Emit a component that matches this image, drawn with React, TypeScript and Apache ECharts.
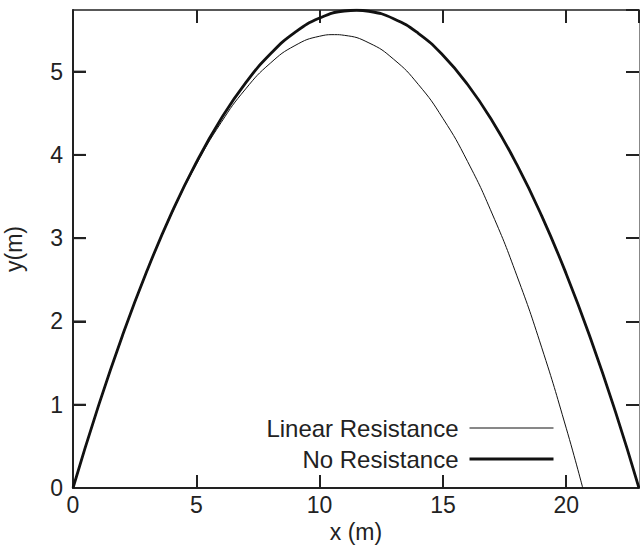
import React, { useEffect, useRef } from "react";
import * as echarts from "echarts";

const noResX = [0, 1, 2, 3, 4, 5, 6, 7, 8, 9, 10, 11, 11.5, 12, 13, 14, 15, 16, 17, 18, 19, 20, 21, 22, 22.95];
const noResY = [0, 0.956, 1.826, 2.608, 3.303, 3.911, 4.431, 4.865, 5.211, 5.471, 5.643, 5.728, 5.737, 5.725, 5.636, 5.46, 5.196, 4.845, 4.407, 3.882, 3.27, 2.571, 1.784, 0.911, 0];

const linX = [0, 1, 2, 3, 4, 5, 6, 7, 8, 9, 10, 10.6, 11, 12, 13, 14, 15, 16, 17, 18, 19, 20, 20.67];
const linY = [0, 0.956, 1.824, 2.602, 3.29, 3.884, 4.386, 4.792, 5.101, 5.313, 5.425, 5.444, 5.436, 5.345, 5.149, 4.847, 4.438, 3.92, 3.291, 2.548, 1.691, 0.718, 0];

const xTicks = [0, 5, 10, 15, 20];
const yTicks = [0, 1, 2, 3, 4, 5];

const FONT = "Liberation Sans, Arial, Helvetica, sans-serif";
const FS = 23;

const mkTick = () => ({ show: true, inside: true, length: 13, lineStyle: { color: "#222", width: 2 } });

export default function App() {
  const ref = useRef<HTMLDivElement>(null);
  useEffect(() => {
    if (!ref.current) return;
    const chart = echarts.init(ref.current, undefined, { renderer: "svg" });
    chart.setOption({
      animation: false,
      backgroundColor: "#fff",
      grid: { left: 73, right: 1, top: 10, bottom: 57, outerBoundsMode: "none", containLabel: false },
      legend: {
        orient: "vertical",
        right: 80,
        top: 411,
        align: "right",
        itemWidth: 84,
        itemHeight: 14,
        itemGap: 7,
        itemStyle: { opacity: 0 },
        textStyle: { fontFamily: FONT, fontSize: 24, color: "#222", padding: [0, 6, 0, 0] },
        data: [
          { name: "Linear Resistance", lineStyle: { width: 1 } },
          { name: "No Resistance", lineStyle: { width: 3 } },
        ],
      },
      xAxis: [
        {
          type: "value",
          min: 0,
          max: 22.95,
          interval: 5,
          name: "x (m)",
          nameLocation: "middle",
          nameGap: 24,
          nameTextStyle: { fontFamily: FONT, fontSize: FS, color: "#222" },
          axisLine: { show: true, onZero: false, lineStyle: { color: "#222", width: 2 } },
          axisTick: mkTick(),
          splitLine: { show: false },
          axisLabel: {
            fontFamily: FONT,
            fontSize: FS,
            color: "#222",
            margin: 5,
            showMaxLabel: false,
            formatter: (v: number) => (xTicks.includes(v) ? String(v) : ""),
          },
        },
        {
          type: "value",
          position: "top",
          min: 0,
          max: 22.95,
          interval: 5,
          axisLine: { show: true, onZero: false, lineStyle: { color: "#222", width: 1.5 } },
          axisTick: mkTick(),
          splitLine: { show: false },
          axisLabel: { show: false },
        },
      ],
      yAxis: [
        {
          type: "value",
          min: 0,
          max: 5.74,
          interval: 1,
          name: "y(m)",
          nameLocation: "middle",
          nameGap: 48,
          nameRotate: 90,
          nameTextStyle: { fontFamily: FONT, fontSize: FS, color: "#222" },
          axisLine: { show: true, onZero: false, lineStyle: { color: "#222", width: 2 } },
          axisTick: mkTick(),
          splitLine: { show: false },
          axisLabel: {
            fontFamily: FONT,
            fontSize: FS,
            color: "#222",
            margin: 10,
            showMaxLabel: false,
            formatter: (v: number) => (yTicks.includes(v) ? String(v) : ""),
          },
        },
        {
          type: "value",
          position: "right",
          min: 0,
          max: 5.74,
          interval: 1,
          axisLine: { show: true, onZero: false, lineStyle: { color: "#888", width: 1 } },
          axisTick: mkTick(),
          splitLine: { show: false },
          axisLabel: { show: false },
        },
      ],
      series: [
        {
          name: "Linear Resistance",
          type: "line",
          smooth: true,
          symbol: "none",
          lineStyle: { color: "#111", width: 1 },
          itemStyle: { color: "#111" },
          data: linX.map((x, i) => [x, linY[i]]),
        },
        {
          name: "No Resistance",
          type: "line",
          smooth: true,
          symbol: "none",
          lineStyle: { color: "#111", width: 2.8 },
          itemStyle: { color: "#111" },
          data: noResX.map((x, i) => [x, noResY[i]]),
        },
      ],
    });
    const tickEls = yTicks
      .filter((v) => v > 0)
      .map((v) => {
        const p = chart.convertToPixel({ xAxisIndex: 0, yAxisIndex: 0 }, [0, v]) as number[];
        return {
          type: "line",
          silent: true,
          z: 10,
          shape: { x1: p[0], y1: p[1], x2: p[0] + 13, y2: p[1] },
          style: { stroke: "#222", lineWidth: 2 },
        };
      });
    chart.setOption({ graphic: tickEls });
    return () => chart.dispose();
  }, []);
  return <div ref={ref} style={{ width: 640, height: 545, position: "absolute", left: 0, top: 0 }} />;
}
